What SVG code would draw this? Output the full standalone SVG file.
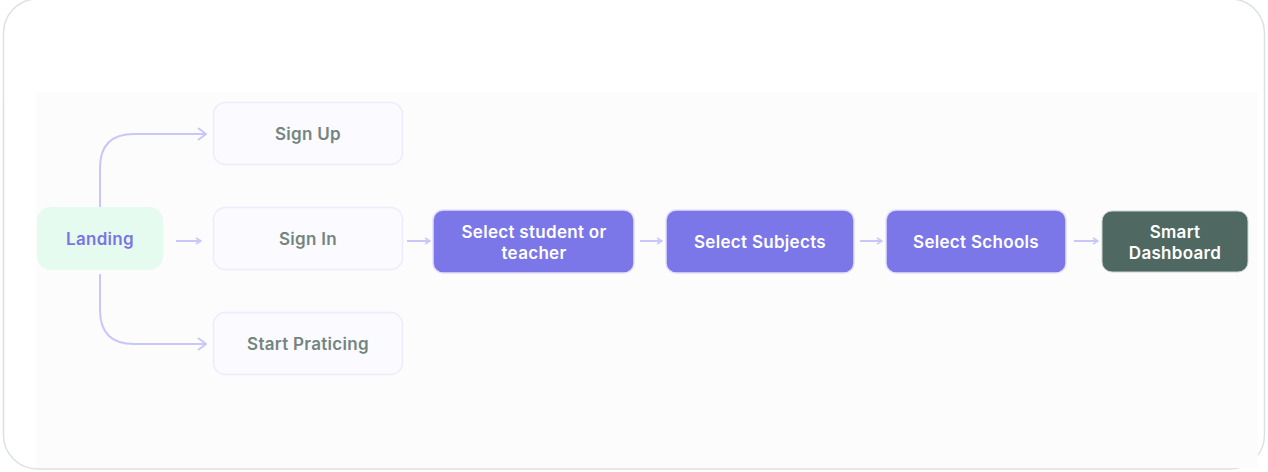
<svg xmlns="http://www.w3.org/2000/svg" width="1268" height="472" viewBox="0 0 1268 472">
<style>
.lbl{font-family:Inter,"Liberation Sans",sans-serif;font-size:17px;font-weight:600;letter-spacing:0.3px;text-anchor:middle;dominant-baseline:central}
.ghost{fill:#fafaff;stroke:#ececfb;stroke-width:1.5}
.ghost-t{fill:#74857f}
.prim{fill:#7c77e8;stroke:#e2e0fb;stroke-width:1.5}
.prim-t{fill:#ffffff}
.con{fill:none;stroke:#c9c6fa;stroke-width:2}
</style>
<defs>
<marker id="chev" viewBox="0 0 10 14" refX="9" refY="7" markerWidth="10" markerHeight="14" markerUnits="userSpaceOnUse" orient="auto">
<polyline points="1,1 9,7 1,13" fill="none" stroke="#c9c6fa" stroke-width="2"/>
</marker>
<marker id="ah" viewBox="0 0 8 8" refX="7" refY="4" markerWidth="8" markerHeight="8" markerUnits="userSpaceOnUse" orient="auto">
<polyline points="2,1 7,4 2,7" fill="none" stroke="#c9c6fa" stroke-width="1.6"/>
</marker>
</defs>
<rect x="3.5" y="-1" width="1261" height="470" rx="34" fill="#ffffff" stroke="#dde1e4" stroke-width="1.5"/>
<rect x="36" y="92" width="1222" height="376" fill="#fcfcfd"/>
<g id="connectors">
<path class="con" d="M100 207 V168 Q100 134 134 134 H206" marker-end="url(#chev)"/>
<path class="con" d="M100 274 V310 Q100 344 134 344 H206" marker-end="url(#chev)"/>
<path class="con" d="M176 241 H201" marker-end="url(#ah)"/>
<path class="con" d="M407 241 H430" marker-end="url(#ah)"/>
<path class="con" d="M640 241 H662" marker-end="url(#ah)"/>
<path class="con" d="M860 241 H882" marker-end="url(#ah)"/>
<path class="con" d="M1074 241 H1098" marker-end="url(#ah)"/>
</g>
<g id="landing">
<rect x="37" y="207" width="126" height="63" rx="14" fill="#e6fbef"/>
<text class="lbl" x="100" y="239" fill="#7b74e6">Landing</text>
</g>
<g id="signup">
<rect class="ghost" x="213.5" y="102.5" width="189" height="62" rx="12"/>
<text class="lbl ghost-t" x="308" y="134">Sign Up</text>
</g>
<g id="signin">
<rect class="ghost" x="213.5" y="207.5" width="189" height="62" rx="12"/>
<text class="lbl ghost-t" x="308" y="239">Sign In</text>
</g>
<g id="start">
<rect class="ghost" x="213.5" y="312.5" width="189" height="62" rx="12"/>
<text class="lbl ghost-t" x="308" y="344">Start Praticing</text>
</g>
<g id="role">
<rect class="prim" x="433" y="210" width="201" height="63" rx="10"/>
<text class="lbl prim-t" x="534" y="232">Select student or</text>
<text class="lbl prim-t" x="534" y="253">teacher</text>
</g>
<g id="subjects">
<rect class="prim" x="666" y="210" width="188" height="63" rx="10"/>
<text class="lbl prim-t" x="760" y="242">Select Subjects</text>
</g>
<g id="schools">
<rect class="prim" x="886" y="210" width="180" height="63" rx="10"/>
<text class="lbl prim-t" x="976" y="242">Select Schools</text>
</g>
<g id="dashboard">
<rect x="1102" y="211" width="146" height="61" rx="10" fill="#4f6962" stroke="#c9d3d0" stroke-width="1"/>
<text class="lbl prim-t" x="1175" y="232">Smart</text>
<text class="lbl prim-t" x="1175" y="253">Dashboard</text>
</g>
</svg>
